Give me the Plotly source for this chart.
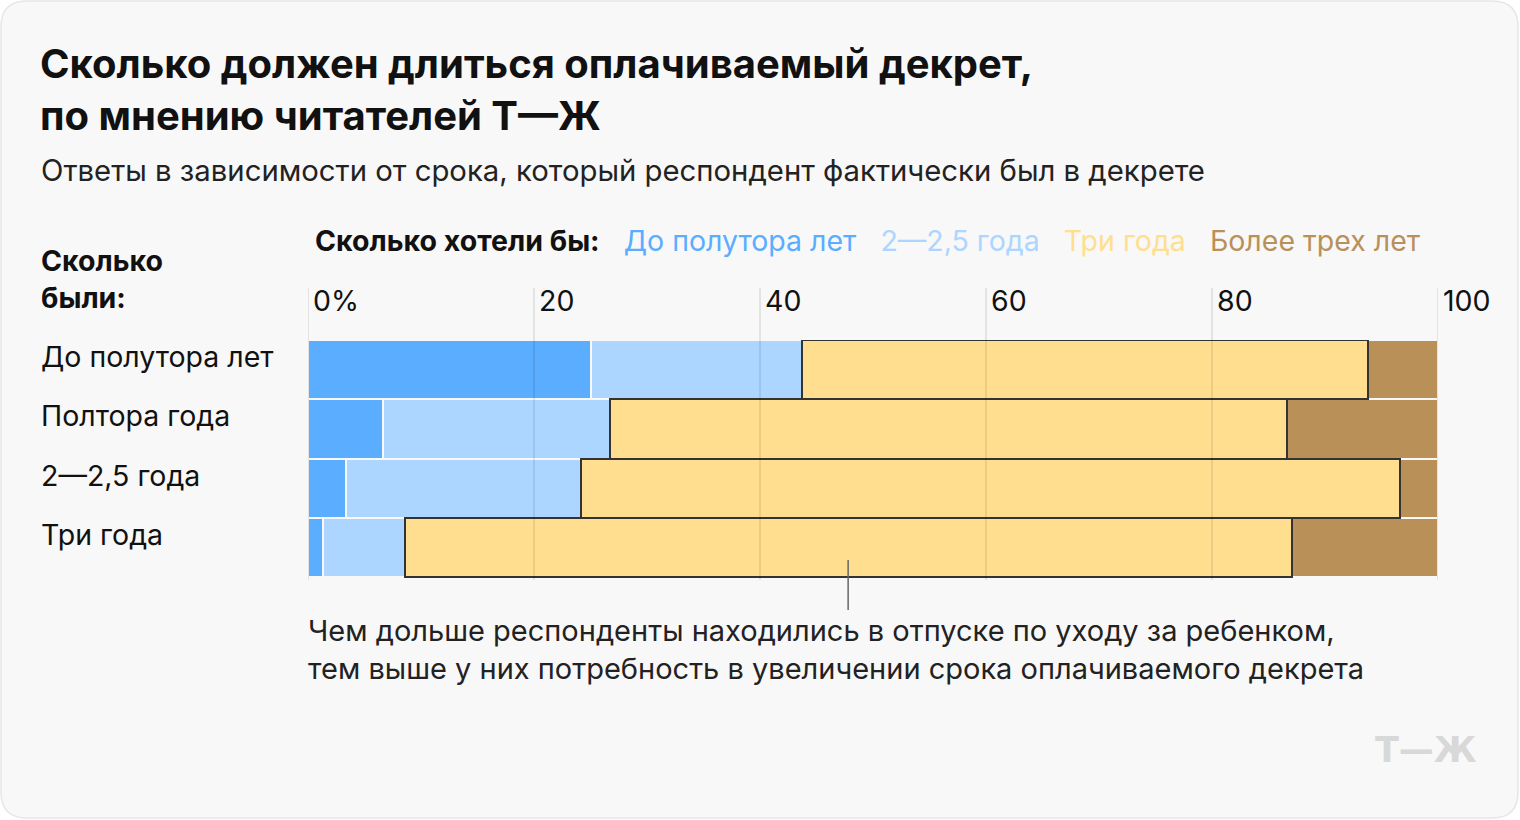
import plotly.graph_objects as go

# ---- data ----
categories = ["До полутора лет", "Полтора года", "2—2,5 года", "Три года"]
series_names = ["До полутора лет", "2—2,5 года", "Три года", "Более трех лет"]
v_upto15 = [25.0, 6.6, 3.4, 1.3]
v_2_25 = [18.7, 20.1, 20.8, 7.3]
v_three = [50.1, 59.9, 72.4, 78.5]
v_more3 = [6.2, 13.4, 3.4, 12.9]
tick_vals = [0, 20, 40, 60, 80, 100]
tick_text = ["0%", "20", "40", "60", "80", "100"]
note_x = 47.8

colors = ["#5aadff", "#acd6ff", "#ffdf8f", "#b89058"]
FONT = "Inter"
FS = 28.5

W, H = 1520, 820
L, R, T, B = 308, 82, 340, 240
PW, PH = W - L - R, H - T - B

def px_x(p):
    return (p - L) / PW

def px_y(p):
    return (H - B - p) / PH

# cumulative bases
base_2_25 = [a for a in v_upto15]
base_three = [a + b for a, b in zip(v_upto15, v_2_25)]
base_more3 = [a + b + c for a, b, c in zip(v_upto15, v_2_25, v_three)]

fig = go.Figure()
fig.add_trace(go.Bar(y=categories, x=v_upto15, base=[0]*4, orientation="h",
                     marker=dict(color=colors[0], line=dict(color="#f8f8f8", width=2)),
                     name=series_names[0], showlegend=False))
fig.add_trace(go.Bar(y=categories, x=v_2_25, base=base_2_25, orientation="h",
                     marker=dict(color=colors[1], line=dict(color="#f8f8f8", width=2)),
                     name=series_names[1], showlegend=False))
fig.add_trace(go.Bar(y=categories, x=v_more3, base=base_more3, orientation="h",
                     marker=dict(color=colors[3], line=dict(color="#f8f8f8", width=2)),
                     name=series_names[3], showlegend=False))
fig.add_trace(go.Bar(y=categories, x=v_three, base=base_three, orientation="h",
                     marker=dict(color=colors[2], line=dict(color="#333333", width=2)),
                     name=series_names[2], showlegend=False))

shapes = []
r = 26
x0, y0, x1, y1 = 1, 1, W - 2, H - 2
card_path = (f"M {x0+r},{y0} L {x1-r},{y0} Q {x1},{y0} {x1},{y0+r} "
             f"L {x1},{y1-r} Q {x1},{y1} {x1-r},{y1} L {x0+r},{y1} Q {x0},{y1} {x0},{y1-r} "
             f"L {x0},{y0+r} Q {x0},{y0} {x0+r},{y0} Z")

def conv(path):
    out = []
    for t in path.split():
        if "," in t:
            a, b = t.split(",")
            out.append(f"{px_x(float(a)):.5f},{px_y(float(b)):.5f}")
        else:
            out.append(t)
    return " ".join(out)

shapes.append(dict(type="path", xref="paper", yref="paper", path=conv(card_path),
                   fillcolor="#f8f8f8", line=dict(color="#e6e6e6", width=1.5), layer="below"))

for tv in tick_vals:
    shapes.append(dict(type="line", xref="x", yref="paper", x0=tv, x1=tv,
                       y0=0, y1=px_y(288), line=dict(color="rgba(0,0,0,0.11)", width=1.5),
                       layer="above"))
shapes.append(dict(type="line", xref="x", yref="paper", x0=note_x, x1=note_x,
                   y0=px_y(560), y1=px_y(610), line=dict(color="#666666", width=1.5),
                   layer="above"))

GAP = "&nbsp;&nbsp;&nbsp;"
ann = []
ann.append(dict(text="<b>Сколько должен длиться оплачиваемый декрет,<br>по мнению читателей Т—Ж</b>",
                xref="paper", yref="paper", x=px_x(38), y=px_y(89), xanchor="left", yanchor="middle",
                align="left", showarrow=False, font=dict(family=FONT, size=40, color="#111111")))
ann.append(dict(text="Ответы в зависимости от срока, который респондент фактически был в декрете",
                xref="paper", yref="paper", x=px_x(39), y=px_y(170), xanchor="left", yanchor="middle",
                align="left", showarrow=False, font=dict(family=FONT, size=29.3, color="#222222")))
ann.append(dict(text="<b>Сколько<br>были:</b>",
                xref="paper", yref="paper", x=px_x(39), y=px_y(279), xanchor="left", yanchor="middle",
                align="left", showarrow=False, font=dict(family=FONT, size=FS, color="#111111")))
legend_txt = "<b>Сколько хотели бы:</b>" + GAP + GAP.join(
    f"<span style='color:{c}'>{n}</span>" for c, n in zip(colors, series_names))
ann.append(dict(text=legend_txt, xref="paper", yref="paper", x=px_x(313), y=px_y(240),
                xanchor="left", yanchor="middle", align="left", showarrow=False,
                font=dict(family=FONT, size=FS, color="#111111")))
for tv, tt in zip(tick_vals, tick_text):
    ann.append(dict(text=tt, xref="x", yref="paper", x=tv, y=px_y(300), xanchor="left",
                    yanchor="middle", xshift=3, showarrow=False,
                    font=dict(family=FONT, size=FS, color="#111111")))
for c in categories:
    ann.append(dict(text=c, xref="paper", yref="y", x=px_x(39), y=c, xanchor="left",
                    yanchor="middle", yshift=13, showarrow=False,
                    font=dict(family=FONT, size=FS, color="#111111")))
ann.append(dict(text="Чем дольше респонденты находились в отпуске по уходу за ребенком,<br>"
                     "тем выше у них потребность в увеличении срока оплачиваемого декрета",
                xref="paper", yref="paper", x=px_x(306), y=px_y(649), xanchor="left", yanchor="middle",
                align="left", showarrow=False, font=dict(family=FONT, size=29, color="#222222")))
ann.append(dict(text="<b>Т—Ж</b>", xref="paper", yref="paper", x=px_x(1479), y=px_y(750),
                xanchor="right", yanchor="middle", showarrow=False,
                font=dict(family="DejaVu Sans", size=35, color="#d8d8d8")))

fig.update_layout(
    width=W, height=H, margin=dict(l=L, r=R, t=T, b=B, pad=0),
    paper_bgcolor="#ffffff", plot_bgcolor="rgba(0,0,0,0)",
    barmode="overlay", bargap=0,
    xaxis=dict(range=[0, 100], showgrid=False, zeroline=False, showticklabels=False,
               fixedrange=True),
    yaxis=dict(autorange="reversed", showgrid=False, zeroline=False, showticklabels=False,
               fixedrange=True),
    shapes=shapes, annotations=ann, showlegend=False,
    font=dict(family=FONT),
)

fig.write_html("out.html", config={"displayModeBar": False},
               post_script="document.body.style.margin='0';document.body.style.overflow='hidden';")
